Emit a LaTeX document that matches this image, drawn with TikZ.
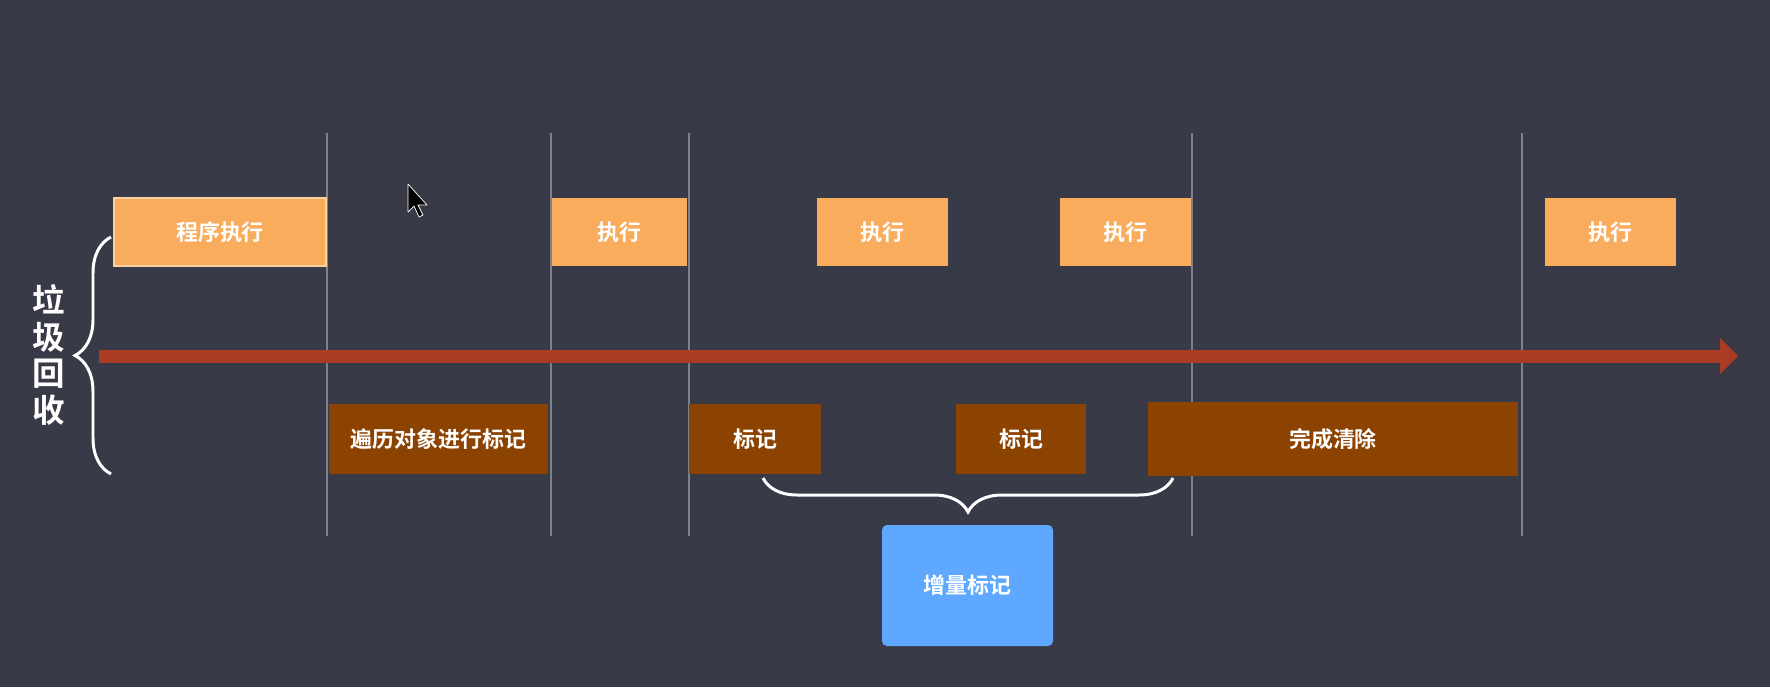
\documentclass[tikz,border=0pt]{standalone}
\usepackage{fontspec}
\newfontfamily\cjk{Noto Sans CJK SC}[BoldFont={Noto Sans CJK SC Bold}]
\usetikzlibrary{arrows.meta,decorations.pathreplacing}
\definecolor{bgdark}{HTML}{393A48}
\definecolor{runorange}{HTML}{F9AC5C}
\definecolor{runedge}{HTML}{FCD2A2}
\definecolor{gcbrown}{HTML}{8C4200}
\definecolor{timered}{HTML}{AA3B24}
\definecolor{incblue}{HTML}{5EA9FF}
\definecolor{phasegray}{HTML}{80828B}
\newlength\pxu
\setlength\pxu{0.02cm}
\tikzset{
  boxtext/.style={text=white,font=\cjk\bfseries\fontsize{12.5}{14}\selectfont,inner sep=0pt},
  runbox/.style={boxtext,fill=runorange,minimum width=#1\pxu,minimum height=68\pxu},
  gcbox/.style={boxtext,fill=gcbrown,minimum width=#1\pxu,minimum height=70\pxu},
  incbox/.style={boxtext,fill=incblue,rounded corners=5\pxu,minimum width=171\pxu,minimum height=121\pxu},
  phase/.style={draw=phasegray,line width=0.8pt},
  timeline/.style={draw=timered,line width=7.4pt,-{Triangle[length=10.2pt,width=20.4pt,line width=0.1pt]}},
  bracewhite/.style={draw=white,line width=1.7pt,decorate},
}
\begin{document}
\begin{tikzpicture}[x=0.02cm,y=-0.02cm]
  % canvas
  \fill[bgdark] (0,0) rectangle (1770,687);
  \useasboundingbox (0,0) rectangle (1770,687);

  % phase boundaries
  \foreach \x in {327,551,689,1192,1522}
    \draw[phase] (\x,133) -- (\x,536);

  % time axis
  \coordinate (tstart) at (99,356);
  \coordinate (tend) at (1738,356);
  \draw[timeline] (tstart) -- (tend);

  % program running
  \node[runbox=212,draw=runedge,line width=0.8pt] (run1) at (220,232) {程序执行};
  \node[runbox=135] (run2) at (619.5,232) {执行};
  \node[runbox=131] (run3) at (882.5,232) {执行};
  \node[runbox=131] (run4) at (1125.5,232) {执行};
  \node[runbox=131] (run5) at (1610.5,232) {执行};

  % collector work
  \node[gcbox=219] (trace) at (438.5,439) {遍历对象进行标记};
  \node[gcbox=132] (mark1) at (755,439) {标记};
  \node[gcbox=130] (mark2) at (1021,439) {标记};
  \node[gcbox=370,minimum height=74\pxu] (sweep) at (1333,439) {完成清除};

  % left label
  \coordinate (gctop) at (111,237);
  \coordinate (gcbot) at (111,474);
  \draw[bracewhite,decoration={brace,amplitude=36\pxu}] (gcbot) -- (gctop);
  \node[text=white,font=\cjk\bfseries\fontsize{18.5}{21}\selectfont,align=center,inner sep=0pt]
    (gclabel) at (49,355) {垃\\圾\\回\\收};

  % incremental marking
  \coordinate (incL) at (763,478);
  \coordinate (incR) at (1173,478);
  \draw[bracewhite,decoration={brace,amplitude=34\pxu}] (incR) -- (incL);
  \node[incbox] (inc) at (967.5,585.5) {增量标记};

  % mouse pointer
  \draw[fill=black,draw=white,line width=0.4pt,line join=round]
    (408,184) -- (408,212) -- (414,206) -- (419,217) -- (423,215) -- (418,205) -- (427,205) -- cycle;
\end{tikzpicture}
\end{document}
